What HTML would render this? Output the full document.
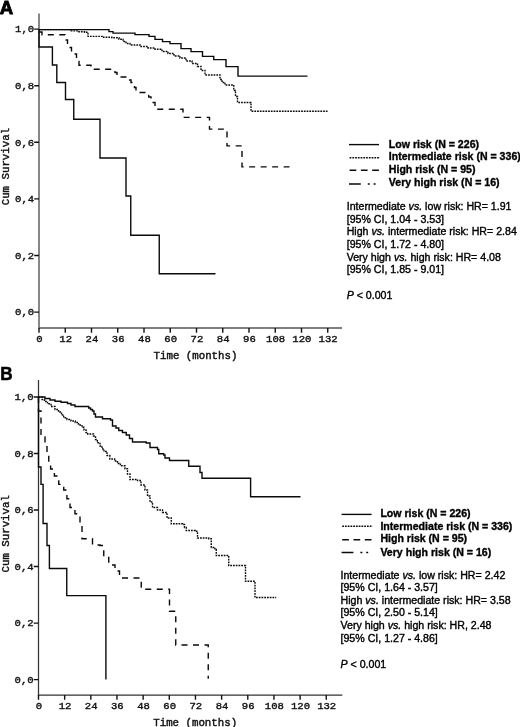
<!DOCTYPE html>
<html><head><meta charset="utf-8"><title>Figure</title>
<style>
html,body{margin:0;padding:0;background:#fff}
svg{display:block}
.m{font-family:"Liberation Mono",monospace;font-size:10.6px;fill:#111;stroke:#111;stroke-width:0.42}
.b{font-family:"Liberation Sans",sans-serif;font-size:10.58px;font-weight:bold;fill:#000;stroke:#000;stroke-width:0.35}
.s{font-family:"Liberation Sans",sans-serif;font-size:10.62px;fill:#000;stroke:#000;stroke-width:0.38}
.i{font-style:italic}
.p{font-family:"Liberation Sans",sans-serif;font-size:17.8px;font-weight:bold;fill:#000;stroke:#000;stroke-width:0.6}
.c{fill:none;stroke:#0a0a0a;stroke-width:1.4}
</style></head>
<body>
<svg width="520" height="727" viewBox="0 0 520 727">
<rect width="520" height="727" fill="#fff"/>
<!-- Panel A -->
<text transform="translate(-0.3,13.7) scale(1.0,1)" class="p" style="font-size:18.6px;stroke-width:0.9">A</text>
<path d="M39,13.6V328H342" fill="none" stroke="#555" stroke-width="1.4"/>
<text transform="translate(34.1,32.30) scale(1,0.92)" text-anchor="end" class="m">1,0</text>
<text transform="translate(34.1,88.90) scale(1,0.92)" text-anchor="end" class="m">0,8</text>
<text transform="translate(34.1,145.50) scale(1,0.92)" text-anchor="end" class="m">0,6</text>
<text transform="translate(34.1,202.10) scale(1,0.92)" text-anchor="end" class="m">0,4</text>
<text transform="translate(34.1,258.70) scale(1,0.92)" text-anchor="end" class="m">0,2</text>
<text transform="translate(34.1,315.30) scale(1,0.92)" text-anchor="end" class="m">0,0</text>
<text transform="translate(39.40,341.6) scale(1,0.92)" text-anchor="middle" class="m">0</text>
<text transform="translate(65.65,341.6) scale(1,0.92)" text-anchor="middle" class="m">12</text>
<text transform="translate(91.90,341.6) scale(1,0.92)" text-anchor="middle" class="m">24</text>
<text transform="translate(118.15,341.6) scale(1,0.92)" text-anchor="middle" class="m">36</text>
<text transform="translate(144.40,341.6) scale(1,0.92)" text-anchor="middle" class="m">48</text>
<text transform="translate(170.65,341.6) scale(1,0.92)" text-anchor="middle" class="m">60</text>
<text transform="translate(196.90,341.6) scale(1,0.92)" text-anchor="middle" class="m">72</text>
<text transform="translate(223.15,341.6) scale(1,0.92)" text-anchor="middle" class="m">84</text>
<text transform="translate(249.40,341.6) scale(1,0.92)" text-anchor="middle" class="m">96</text>
<text transform="translate(275.65,341.6) scale(1,0.92)" text-anchor="middle" class="m">108</text>
<text transform="translate(301.90,341.6) scale(1,0.92)" text-anchor="middle" class="m">120</text>
<text transform="translate(328.15,341.6) scale(1,0.92)" text-anchor="middle" class="m">132</text>
<path d="M34.2,29.10H39M34.2,85.70H39M34.2,142.30H39M34.2,198.90H39M34.2,255.50H39M34.2,312.10H39M39.00,328V332.8M65.25,328V332.8M91.50,328V332.8M117.75,328V332.8M144.00,328V332.8M170.25,328V332.8M196.50,328V332.8M222.75,328V332.8M249.00,328V332.8M275.25,328V332.8M301.50,328V332.8M327.75,328V332.8" fill="none" stroke="#111" stroke-width="1.4"/>
<text transform="translate(9,166.6) rotate(-90)" text-anchor="middle" class="m" style="font-size:10.75px">Cum Survival</text>
<text x="195.5" y="358.7" text-anchor="middle" class="m" style="font-size:10.75px">Time (months)</text>
<path d="M39,29.6H62V29.6H70V30.9H78V31.7H84.5V32.3H88V36.4H102V37.3H112V37.8H119V39.2H123V41.5H126V43.5H130V45.0H140V46.5H148V48.0H155V49.25H162V51.5H168V53.5H174V56.0H180V58.0H186V61.0H192V63.5H197.5V66.5H201V70.5H205V75.0H220V79.5H222V82.5H225V85.0H233.75V90.5H235.5V96.5H237.5V102.5H251V111.25H327.5V111.25" class="c" stroke-width="1.7" stroke-dasharray="1.75,1"/>
<path d="M39,32H42V34.7H65V40H67.5V47.5H71.5V54H76.5V61.5H79V65.3H91V69.3H115V72.5H117V77H128V80H131V82.5H134.5V87.5H136V92.5H148.75V97H151V102.5H155V109.25H183V117.35H209.5V129.1H227V145.85H242V166.85H289.5V166.85" class="c" stroke-dasharray="6,5.5"/>
<path d="M39,29.6H109V31.6H113V33.1H135V34.6H149V36.35H155V39.35H162.5V41.6H170V43.6H181V48.6H191V51.6H202.5V56.35H213.75V59.6H226V66.6H238V76.1H307.5V76.1" class="c"/>
<path d="M39,29.5H39V47H52.4V65H56.8V82.5H65.5V99.5H73.75V119.25H100V158H126V196H130.75V235.25H159.25V273.75H215.5V273.75" class="c"/>
<path d="M349,144.6H379" class="c" stroke-width="1.4"/>
<path d="M349.6,157.7H380" class="c" stroke-width="1.6" stroke-dasharray="1.75,1"/>
<path d="M349.6,170.2H379" class="c" stroke-width="1.9" stroke-dasharray="6.7,4.6"/>
<path d="M349,184.0H360.8M367.8,184.0h2M373.6,184.0h2" class="c" stroke-width="2"/>
<text x="388.8" y="147.50" class="b">Low risk (N = 226)</text>
<text x="388.8" y="160.00" class="b">Intermediate risk (N = 336)</text>
<text x="388.8" y="172.90" class="b">High risk (N = 95)</text>
<text x="388.8" y="186.00" class="b">Very high risk (N = 16)</text>
<text x="346.7" y="209.80" class="s">Intermediate <tspan class="i">vs.</tspan> low risk: HR= 1.91</text>
<text x="346.7" y="222.50" class="s">[95% CI, 1.04 - 3.53]</text>
<text x="346.7" y="235.20" class="s">High <tspan class="i">vs.</tspan> intermediate risk: HR= 2.84</text>
<text x="346.7" y="247.90" class="s">[95% CI, 1.72 - 4.80]</text>
<text x="346.7" y="260.60" class="s">Very high <tspan class="i">vs.</tspan> high risk: HR= 4.08</text>
<text x="346.7" y="273.30" class="s">[95% CI, 1.85 - 9.01]</text>
<text x="346.7" y="299.1" class="s"><tspan class="i">P</tspan> &lt; 0.001</text>
<!-- Panel B -->
<text transform="translate(0.15,380.4) scale(0.96,1)" class="p">B</text>
<path d="M38.5,380V695H342.3" fill="none" stroke="#333" stroke-width="1.25"/>
<text transform="translate(33.6,400.20) scale(1,0.92)" text-anchor="end" class="m">1,0</text>
<text transform="translate(33.6,456.72) scale(1,0.92)" text-anchor="end" class="m">0,8</text>
<text transform="translate(33.6,513.24) scale(1,0.92)" text-anchor="end" class="m">0,6</text>
<text transform="translate(33.6,569.76) scale(1,0.92)" text-anchor="end" class="m">0,4</text>
<text transform="translate(33.6,626.28) scale(1,0.92)" text-anchor="end" class="m">0,2</text>
<text transform="translate(33.6,682.80) scale(1,0.92)" text-anchor="end" class="m">0,0</text>
<text transform="translate(38.90,708.6) scale(1,0.92)" text-anchor="middle" class="m">0</text>
<text transform="translate(65.06,708.6) scale(1,0.92)" text-anchor="middle" class="m">12</text>
<text transform="translate(91.22,708.6) scale(1,0.92)" text-anchor="middle" class="m">24</text>
<text transform="translate(117.38,708.6) scale(1,0.92)" text-anchor="middle" class="m">36</text>
<text transform="translate(143.54,708.6) scale(1,0.92)" text-anchor="middle" class="m">48</text>
<text transform="translate(169.70,708.6) scale(1,0.92)" text-anchor="middle" class="m">60</text>
<text transform="translate(195.86,708.6) scale(1,0.92)" text-anchor="middle" class="m">72</text>
<text transform="translate(222.02,708.6) scale(1,0.92)" text-anchor="middle" class="m">84</text>
<text transform="translate(248.18,708.6) scale(1,0.92)" text-anchor="middle" class="m">96</text>
<text transform="translate(274.34,708.6) scale(1,0.92)" text-anchor="middle" class="m">108</text>
<text transform="translate(300.50,708.6) scale(1,0.92)" text-anchor="middle" class="m">120</text>
<text transform="translate(326.66,708.6) scale(1,0.92)" text-anchor="middle" class="m">132</text>
<path d="M33.7,397.00H38.5M33.7,453.52H38.5M33.7,510.04H38.5M33.7,566.56H38.5M33.7,623.08H38.5M33.7,679.60H38.5M38.50,695V699.8M64.66,695V699.8M90.82,695V699.8M116.98,695V699.8M143.14,695V699.8M169.30,695V699.8M195.46,695V699.8M221.62,695V699.8M247.78,695V699.8M273.94,695V699.8M300.10,695V699.8M326.26,695V699.8" fill="none" stroke="#111" stroke-width="1.4"/>
<text transform="translate(8.5,533.8) rotate(-90)" text-anchor="middle" class="m" style="font-size:10.75px">Cum Survival</text>
<text x="195.2" y="726.1" text-anchor="middle" class="m" style="font-size:10.75px">Time (months)</text>
<path d="M38.5,397H42V399.5H44.5V401.5H47.5V403.75H51V406.5H55V409.5H58.5V412H61.5V415H63.7V417.7H67V419.5H71V421H75.2V422.5H78.5V425H82V427.3H84V430H86V432.5H87.7V434H93.5V436H95.5V439.5H97.3V442.7H100V446H102V449H104V451.5H107V455.5H109.8V459H114.6V461H117.5V463.5H120.4V465.8H125V468.75H127.5V474H130V479.5H137.5V480.5H141V485H145V490H147.5V496H150V502H152.5V507.5H157.5V510H162.5V512.5H167V518H171.25V523.75H182.5V524.5H184.5V527.5H186.25V530.5H195V531.25H197.5V538H208.75V538.75H211.25V547.5H215V549.5H216.25V555.5H228.75V565.5H245.5V581.25H255V597.5H276.25V597.5" class="c" stroke-width="1.7" stroke-dasharray="1.75,1"/>
<path d="M38.5,397H38.5V411H41V437H45V445H47V455H48.75V463H50.6V469H54.4V476H58.75V484.4H63.75V490H66.9V498.75H70V507.5H75V513.75H80V525H82V538.75H92.5V545H100V545.5H103.75V557.5H108.75V565H115V571H119.5V578H141.25V589.25H169.5V611.25H175.75V645H208.25V678.75" class="c" stroke-dasharray="6,5.5"/>
<path d="M38.5,397H45V398.5H50V400H55V401.25H61V402.3H67.5V403.5H71V405H75V406.5H88.7V408H90.5V409.5H92.5V411H94V414H95.5V417H102.5V418.75H110.5V420H112.5V426H116V428H118.75V430.5H122.5V432.5H126.25V435H129.5V438.5H132.5V442H146.25V443H150V447.5H157.5V449.5H158.75V453.75H163.75V455H165V458H169.5V460.5H188.75V466.25H200V472.5H202V478.3H250.6V496.7H300.5V496.7" class="c"/>
<path d="M38.5,397H38.5V467H41V484.4H43.1V523.5H47V545.5H49.4V568.5H66.75V595.6H105.9V679.6" class="c"/>
<path d="M341.6,514.4H371.6" class="c" stroke-width="1.4"/>
<path d="M342.20000000000005,526.3H372.6" class="c" stroke-width="1.6" stroke-dasharray="1.75,1"/>
<path d="M342.20000000000005,539.8H371.6" class="c" stroke-width="1.9" stroke-dasharray="6.7,4.6"/>
<path d="M341.6,552.5H353.40000000000003M360.40000000000003,552.5h2M366.20000000000005,552.5h2" class="c" stroke-width="2"/>
<text x="380.40000000000003" y="517.00" class="b">Low risk (N = 226)</text>
<text x="380.40000000000003" y="529.50" class="b">Intermediate risk (N = 336)</text>
<text x="380.40000000000003" y="542.40" class="b">High risk (N = 95)</text>
<text x="380.40000000000003" y="555.50" class="b">Very high risk (N = 16)</text>
<text x="340.5" y="578.60" class="s">Intermediate <tspan class="i">vs.</tspan> low risk: HR= 2.42</text>
<text x="340.5" y="591.22" class="s">[95% CI, 1.64 - 3.57]</text>
<text x="340.5" y="603.84" class="s">High <tspan class="i">vs.</tspan> intermediate risk: HR= 3.58</text>
<text x="340.5" y="616.46" class="s">[95% CI, 2.50 - 5.14]</text>
<text x="340.5" y="629.08" class="s">Very high <tspan class="i">vs.</tspan> high risk: HR, 2.48</text>
<text x="340.5" y="641.70" class="s">[95% CI, 1.27 - 4.86]</text>
<text x="340.5" y="668" class="s"><tspan class="i">P</tspan> &lt; 0.001</text>
</svg>
</body></html>
